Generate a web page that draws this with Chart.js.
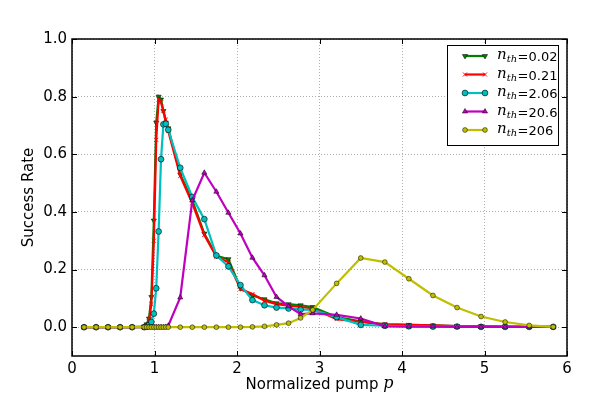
<!DOCTYPE html>
<html>
<head>
<meta charset="utf-8">
<script src="https://cdn.jsdelivr.net/npm/chart.js@4/dist/chart.umd.min.js"></script>
<style>
html,body{margin:0;padding:0;background:#fff;}
#wrap{width:600px;height:396px;position:relative;}
</style>
</head>
<body>
<div id="wrap"><canvas id="c" width="600" height="396"></canvas></div>
<script>
// Normalized pump values (shared x grid)
const pump = [0.146,0.292,0.437,0.583,0.729,
  0.875,0.904,0.933,0.962,0.992,1.021,1.050,1.079,1.108,1.137,1.167,
  1.312,1.458,1.604,1.750,1.896,2.042,2.187,2.333,2.479,2.625,2.771,2.917,
  3.208,3.500,3.792,4.083,4.375,4.667,4.958,5.250,5.542,5.833];

const nth002 = [0,0,0,0,0,
  0.002,0.01,0.03,0.105,0.37,0.71,0.80,0.79,0.75,0.71,0.69,
  0.53,0.44,0.325,0.248,0.236,0.135,0.11,0.097,0.083,0.08,0.076,0.07,
  0.035,0.02,0.01,0.008,0.006,0.004,0.003,0.002,0.001,0.001];

const nth021 = [0,0,0,0,0,
  0.001,0.005,0.02,0.08,0.30,0.65,0.79,0.78,0.75,0.72,0.68,
  0.525,0.43,0.32,0.245,0.225,0.132,0.115,0.092,0.08,0.075,0.07,0.065,
  0.028,0.018,0.01,0.008,0.006,0.004,0.003,0.002,0.001,0.001];

const nth206 = [0,0,0,0,0,
  0,0.002,0.008,0.018,0.047,0.135,0.332,0.583,0.704,0.706,0.685,
  0.553,0.452,0.375,0.249,0.211,0.146,0.094,0.076,0.068,0.065,0.061,0.06,
  0.035,0.008,0.005,0.003,0.002,0.002,0.001,0.001,0.001,0.001];

const nth20_6 = [0,0,0,0,0,
  0,0,0,0,0,0,0,0,0,0.001,0.005,
  0.103,0.44,0.536,0.47,0.397,0.325,0.241,0.18,0.105,0.072,0.045,0.048,
  0.043,0.03,0.003,0.002,0.002,0.001,0.001,0.001,0.001,0.001];

const nth206b = [0,0,0,0,0,
  0,0,0,0,0,0,0,0,0,0,0,
  0,0,0,0,0,0,0.001,0.003,0.008,0.014,0.032,0.06,
  0.152,0.24,0.226,0.168,0.11,0.068,0.037,0.018,0.006,0.001];

const seriesNames = ['0.02','0.21','2.06','20.6','206'];
const xTicks = [0,1,2,3,4,5,6];
const yTicks = [0,0.2,0.4,0.6,0.8,1.0];

const styles = [
  {color:'#007f00', point:'triangle', rot:180, r:3.0, edge:'#000', bw:0.5},
  {color:'#ff0000', point:'crossRot', rot:0, r:2.8, edge:'#ff0000', bw:1.0},
  {color:'#00bfbf', point:'circle', rot:0, r:2.9, edge:'#000', bw:0.6},
  {color:'#bf00bf', point:'triangle', rot:0, r:3.0, edge:'#000', bw:0.5},
  {color:'#bfbf00', point:'circle', rot:0, r:2.4, edge:'#000', bw:0.5}
];
const allSeries = [nth002, nth021, nth206, nth20_6, nth206b];

const datasets = allSeries.map((arr,i)=>({
  label: 'n_th='+seriesNames[i],
  data: arr.map((v,j)=>({x:pump[j], y:v})),
  borderColor: styles[i].color,
  backgroundColor: styles[i].color,
  borderWidth: 2.2,
  pointStyle: styles[i].point,
  pointRotation: styles[i].rot,
  pointRadius: styles[i].r,
  pointBorderColor: styles[i].edge,
  pointBorderWidth: styles[i].bw,
  pointBackgroundColor: styles[i].color,
  tension: 0,
  order: 4 - i
}));

const FONT = "'DejaVu Sans', sans-serif";

const framePlugin = {
  id:'frame',
  afterDraw(chart){
    const {ctx, chartArea:a, scales} = chart;
    ctx.save();
    ctx.strokeStyle = '#000';
    ctx.lineWidth = 1;
    xTicks.forEach(v=>{
      const px = Math.round(scales.x.getPixelForValue(v))+0.5;
      ctx.beginPath();
      ctx.moveTo(px, a.bottom); ctx.lineTo(px, a.bottom-5);
      ctx.moveTo(px, a.top); ctx.lineTo(px, a.top+5);
      ctx.stroke();
    });
    yTicks.forEach(v=>{
      const py = Math.round(scales.y.getPixelForValue(v))+0.5;
      ctx.beginPath();
      ctx.moveTo(a.left, py); ctx.lineTo(a.left+5, py);
      ctx.moveTo(a.right, py); ctx.lineTo(a.right-5, py);
      ctx.stroke();
    });
    ctx.lineWidth = 1.5;
    ctx.strokeRect(a.left, a.top, a.right-a.left, a.bottom-a.top);

    // x axis title with italic p
    ctx.fillStyle = '#000';
    ctx.textBaseline = 'alphabetic';
    const t1 = 'Normalized pump ';
    ctx.font = '15px '+FONT;
    const w1 = ctx.measureText(t1).width;
    ctx.font = "italic 16px 'DejaVu Serif', serif";
    const w2 = ctx.measureText('p').width;
    const cx = (a.left+a.right)/2;
    let sx = cx - (w1+w2)/2;
    ctx.font = '15px '+FONT;
    ctx.textAlign = 'left';
    ctx.fillText(t1, sx, 389);
    ctx.font = "italic 16px 'DejaVu Serif', serif";
    ctx.fillText('p', sx+w1, 388);

    // y axis title
    ctx.save();
    ctx.translate(33, (a.top+a.bottom)/2);
    ctx.rotate(-Math.PI/2);
    ctx.textAlign = 'center';
    ctx.font = '15px '+FONT;
    ctx.fillText('Success Rate', 0, 0);
    ctx.restore();

    // legend
    const lx = 447, ly = 45, lw = 111, lh = 100;
    ctx.fillStyle = '#fff';
    ctx.fillRect(lx, ly, lw, lh);
    ctx.lineWidth = 1;
    ctx.strokeStyle = '#000';
    ctx.strokeRect(lx+0.5, ly+0.5, lw, lh);
    const rows = [56, 74.5, 93, 111.5, 130];
    datasets.forEach((d,i)=>{
      const y = rows[i];
      ctx.strokeStyle = styles[i].color;
      ctx.lineWidth = 2.2;
      ctx.beginPath(); ctx.moveTo(465,y); ctx.lineTo(485,y); ctx.stroke();
      ctx.fillStyle = styles[i].color;
      ctx.strokeStyle = styles[i].edge;
      ctx.lineWidth = styles[i].bw;
      [465,485].forEach(px=>{
        Chart.helpers.drawPoint(ctx, {
          pointStyle: styles[i].point, rotation: styles[i].rot,
          radius: styles[i].r, borderWidth: styles[i].bw
        }, px, y);
      });
      ctx.fillStyle = '#000';
      ctx.textAlign = 'left';
      ctx.textBaseline = 'alphabetic';
      let tx = 497;
      ctx.font = "italic 15px 'DejaVu Serif', serif";
      ctx.fillText('n', tx, y+3);
      tx += ctx.measureText('n').width;
      ctx.font = "italic 10px 'DejaVu Serif', serif";
      ctx.fillText('th', tx, y+6);
      tx += ctx.measureText('th').width + 0.5;
      ctx.font = '13px '+FONT;
      ctx.fillText('='+seriesNames[i], tx, y+5);
    });
    ctx.restore();
  }
};

new Chart(document.getElementById('c'), {
  type:'line',
  data:{datasets},
  options:{
    responsive:false,
    animation:false,
    layout:{padding:{top:39,right:33,left:0,bottom:0}},
    plugins:{legend:{display:false}, tooltip:{enabled:false}},
    scales:{
      x:{
        type:'linear', min:0, max:6,
        afterBuildTicks(s){ s.ticks = xTicks.map(v=>({value:v})); },
        afterFit(s){ s.height = 40; },
        ticks:{color:'#000', font:{family:FONT, size:15}, padding:4, maxRotation:0,
          callback:(v)=>String(v)},
        grid:{color:'rgba(0,0,0,0.45)', lineWidth:0.7, drawTicks:false},
        border:{display:false, dash:[1,2]}
      },
      y:{
        type:'linear', min:-0.1, max:1.0,
        afterBuildTicks(s){ s.ticks = yTicks.map(v=>({value:v})); },
        afterFit(s){ s.width = 72; },
        ticks:{color:'#000', font:{family:FONT, size:15}, padding:5,
          callback:(v)=>Number(v).toFixed(1)},
        grid:{color:'rgba(0,0,0,0.45)', lineWidth:0.7, drawTicks:false},
        border:{display:false, dash:[1,2]}
      }
    }
  },
  plugins:[framePlugin]
});
</script>
</body>
</html>
